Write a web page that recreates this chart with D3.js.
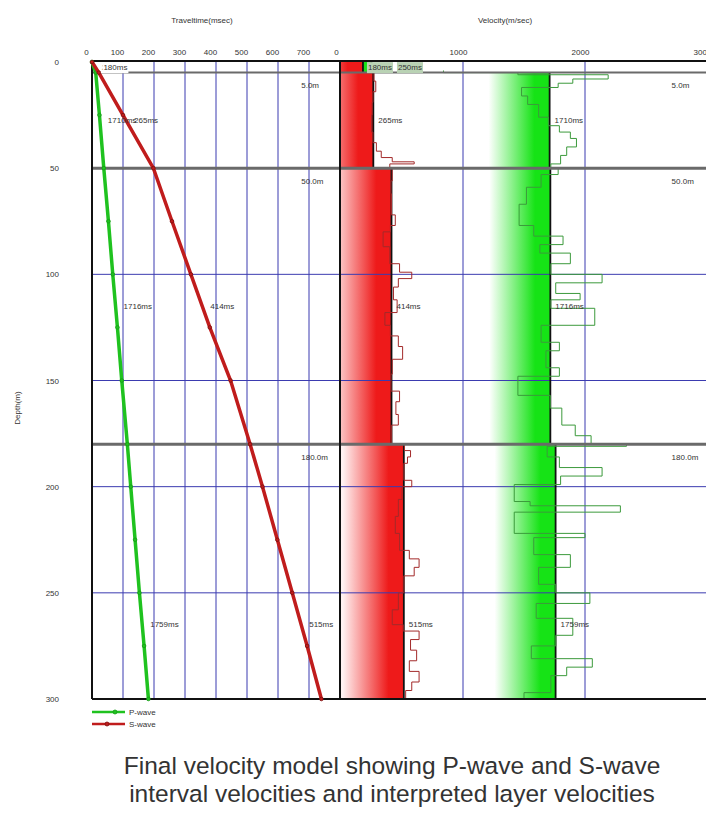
<!DOCTYPE html>
<html>
<head>
<meta charset="utf-8">
<script src="https://cdn.jsdelivr.net/npm/d3@7"></script>
<style>
  body { margin: 0; background: #fff; }
  svg text { font-family: "Liberation Sans Narrow", "Liberation Sans", Arial, sans-serif; fill: #333; }
</style>
</head>
<body>
<svg id="chart" width="706" height="821"></svg>
<script>
// axis ticks
const depthTicks = [0, 50, 100, 150, 200, 250, 300];
const timeTicks = [0, 100, 200, 300, 400, 500, 600, 700];
const velTicks = [0, 1000, 2000, 3000];

// interpreted layers
const layerTop = [0, 5, 50, 180];
const layerBot = [5, 50, 180, 300];
const layerVp = [250, 1710, 1716, 1759];
const layerVs = [180, 265, 414, 515];
const labelDepth = [2.5, 27.5, 115, 265];

// first-break traveltimes
const ttDepth = [0, 5, 25, 50, 75, 100, 125, 150, 180, 200, 225, 250, 275, 300];
const ttP = [0, 12, 24, 38, 53, 67, 82, 96, 114, 125, 139, 153, 168, 182];
const ttS = [0, 22, 100, 198, 258, 319, 380, 447, 510, 550, 598, 646, 694, 740];

// interval velocities (step tops, m)
const sTop = [5, 9, 14, 19, 25, 33, 38, 42, 45, 47, 48,
  50, 56, 62, 72, 77, 80, 87, 95, 99, 102, 106, 112, 118, 124, 129, 134, 140, 147, 155, 160, 166, 171,
  180, 183, 186, 189, 197, 200, 206, 214, 222, 230, 234, 238, 242, 250, 258, 265, 268, 272, 277, 282, 287, 292, 296];
const sVel = [270, 285, 262, 255, 250, 262, 290, 330, 420, 600, 400,
  420, 410, 414, 445, 405, 345, 400, 480, 580, 470, 430, 460, 360, 405, 470, 505, 420, 410, 480, 450, 470, 415,
  520, 570, 545, 515, 580, 500, 470, 445, 480, 560, 640, 600, 515, 470, 420, 510, 640, 570, 620, 560, 640, 580, 530];
const pTop = [4, 5, 6, 8, 10, 12, 16, 20, 26, 30, 33, 36, 40, 44, 48,
  50, 53, 59, 67, 77, 82, 86, 90, 95, 100, 104, 109, 112, 116, 124, 132, 136, 144, 148, 157, 163, 171, 176,
  180, 181, 186, 191, 195, 199, 207, 209, 212, 222, 224, 232, 238, 246, 250, 255, 262, 270, 275, 281, 285, 289, 297];
const pVel = [840, 1450, 2190, 1900, 1780, 1480, 1530, 1620, 1700, 1790, 1880, 1930, 1850, 1800, 1720,
  1780, 1640, 1520, 1460, 1580, 1820, 1630, 1880, 1720, 2140, 1760, 1960, 1720, 2080, 1640, 1790, 1680, 1790, 1450, 1716, 1810, 1920, 2050,
  2340, 1690, 1790, 2140, 1800, 1420, 1550, 2290, 1420, 2000, 1580, 1880, 1620, 1760, 2040, 1600, 1900, 1760, 1560, 2060, 1850, 1720, 1500];

const svg = d3.select('#chart');
const y = d3.scaleLinear().domain([0, 300]).range([62, 699]);
const xT = d3.scaleLinear().domain([0, 800]).range([92, 340]);
const xV = d3.scaleLinear().domain([0, 3000]).range([341, 707]);
const gradSpan = 500;
const blue = '#3b3bb0';

// gradients for layer bars
const defs = svg.append('defs');
function makeGrad(id, v, from, color) {
  const g = defs.append('linearGradient').attr('id', id)
    .attr('gradientUnits', 'userSpaceOnUse')
    .attr('x1', xV(v - gradSpan)).attr('x2', xV(v)).attr('y1', 0).attr('y2', 0);
  g.append('stop').attr('offset', 0).attr('stop-color', from);
  g.append('stop').attr('offset', 0.75).attr('stop-color', color);
  g.append('stop').attr('offset', 1).attr('stop-color', color);
}
layerTop.forEach((t, i) => {
  makeGrad('gp' + i, layerVp[i], '#fff', '#16e316');
  makeGrad('gs' + i, layerVs[i], '#fff2f2', '#ee1a1a');
});

// velocity bars
layerTop.forEach((t, i) => {
  svg.append('rect').attr('x', xV(0)).attr('y', y(t))
    .attr('width', xV(layerVp[i]) - xV(0)).attr('height', y(layerBot[i]) - y(t))
    .attr('fill', `url(#gp${i})`);
  svg.append('rect').attr('x', xV(0)).attr('y', y(t))
    .attr('width', xV(layerVs[i]) - xV(0)).attr('height', y(layerBot[i]) - y(t))
    .attr('fill', `url(#gs${i})`);
});

// grid
const grid = svg.append('g').attr('stroke', blue).attr('stroke-width', 1);
timeTicks.slice(1).forEach(t => {
  grid.append('line').attr('x1', xT(t)).attr('x2', xT(t)).attr('y1', y(0)).attr('y2', y(300));
});
[1000, 2000].forEach(v => {
  grid.append('line').attr('x1', xV(v)).attr('x2', xV(v)).attr('y1', y(0)).attr('y2', y(300));
});
[100, 150, 200, 250].forEach(d => {
  grid.append('line').attr('x1', xT(0)).attr('x2', 706).attr('y1', y(d)).attr('y2', y(d));
});

// bar edges
layerTop.forEach((t, i) => {
  [layerVp[i], layerVs[i]].forEach(v => {
    svg.append('line').attr('x1', xV(v)).attr('x2', xV(v))
      .attr('y1', y(t)).attr('y2', y(layerBot[i]))
      .attr('stroke', '#111').attr('stroke-width', 1.8);
  });
});

// interval velocity step lines
function stepPoints(tops, vels) {
  const pts = [];
  tops.forEach((t, i) => {
    const b = i < tops.length - 1 ? tops[i + 1] : 300;
    pts.push([vels[i], t], [vels[i], b]);
  });
  return pts;
}
const stepLine = d3.line().x(d => xV(d[0])).y(d => y(d[1]));
svg.append('path').attr('d', stepLine(stepPoints(pTop, pVel)))
  .attr('fill', 'none').attr('stroke', '#3c9a3c').attr('stroke-width', 1);
svg.append('path').attr('d', stepLine(stepPoints(sTop, sVel)))
  .attr('fill', 'none').attr('stroke', '#a32a2a').attr('stroke-width', 1);

// layer boundaries
layerTop.slice(1).forEach(d => {
  svg.append('line').attr('x1', xT(0)).attr('x2', 706).attr('y1', y(d)).attr('y2', y(d))
    .attr('stroke', '#6a6a6a').attr('stroke-width', d === 5 ? 2 : 3);
});

// frame
const frame = svg.append('g').attr('stroke', '#111').attr('stroke-width', 2);
frame.append('line').attr('x1', xT(0)).attr('x2', 706).attr('y1', y(0) - 1).attr('y2', y(0) - 1);
frame.append('line').attr('x1', xT(0)).attr('x2', 706).attr('y1', y(300)).attr('y2', y(300));
frame.append('line').attr('x1', xT(0)).attr('x2', xT(0)).attr('y1', y(0) - 1).attr('y2', y(300));
frame.append('line').attr('x1', xT(800)).attr('x2', xT(800)).attr('y1', y(0) - 1).attr('y2', y(300));

// traveltime curves
const ttLine = d3.line().x(d => xT(d[1])).y(d => y(d[0]));
const series = [
  { name: 'P-wave', t: ttP, color: '#1fc21f', dark: '#169a16' },
  { name: 'S-wave', t: ttS, color: '#c01c1c', dark: '#7a1010' }
];
series.forEach(s => {
  const pts = ttDepth.map((d, i) => [d, s.t[i]]);
  svg.append('path').attr('d', ttLine(pts)).attr('fill', 'none')
    .attr('stroke', s.color).attr('stroke-width', 3.5);
  svg.append('g').selectAll('circle').data(pts).enter().append('circle')
    .attr('cx', d => xT(d[1])).attr('cy', d => y(d[0])).attr('r', 1.8)
    .attr('fill', s.color).attr('stroke', s.dark).attr('stroke-width', 0.8);
});

// layer labels
const fs = 8;
const tP = d3.scaleLinear().domain(ttDepth).range(ttP);
const tS = d3.scaleLinear().domain(ttDepth).range(ttS);
function label(x, yy, txt, bg) {
  const g = svg.append('g');
  const t = g.append('text').attr('x', x).attr('y', yy).attr('dy', '0.35em')
    .attr('font-size', fs).text(txt);
  if (bg) {
    const bb = t.node().getBBox();
    g.insert('rect', 'text').attr('x', bb.x - 1).attr('y', bb.y - 1)
      .attr('width', bb.width + 2).attr('height', bb.height + 2).attr('fill', bg);
  }
  return t;
}
layerTop.forEach((t, i) => {
  const d = labelDepth[i];
  label(xT(tP(d)) + 8, y(d), layerVp[i] + 'ms', i === 0 ? '#fff' : null);
  label(xT(tS(d)) + 8, y(d), layerVs[i] + 'ms', i === 0 ? '#fff' : null);
  const sx = xV(layerVs[i]) + 5;
  label(sx, y(d), layerVs[i] + 'ms', i === 0 ? '#b9d2b4' : null);
  label(Math.max(xV(layerVp[i]) + 5, sx + 30), y(d), layerVp[i] + 'ms', i === 0 ? '#b9d2b4' : null);
});
layerTop.slice(1).forEach(d => {
  label(xT(675), y(d) + 13, d.toFixed(1) + 'm');
  label(xV(2710), y(d) + 13, d.toFixed(1) + 'm');
});

// axes
const fmt = d3.format('d');
const topTime = svg.append('g').attr('transform', 'translate(-6,55)')
  .call(d3.axisTop(xT).tickValues(timeTicks).tickFormat(fmt).tickSize(0).tickPadding(0));
const topVel = svg.append('g').attr('transform', 'translate(-5,55)')
  .call(d3.axisTop(xV).tickValues(velTicks).tickFormat(fmt).tickSize(0).tickPadding(0));
const left = svg.append('g').attr('transform', 'translate(59,0)')
  .call(d3.axisLeft(y).tickValues(depthTicks).tickFormat(fmt).tickSize(0).tickPadding(0));
[topTime, topVel, left].forEach(a => {
  a.select('.domain').remove();
  a.selectAll('text').attr('font-size', fs).attr('fill', '#333')
    .style('font-family', '"Liberation Sans Narrow", "Liberation Sans", Arial, sans-serif');
});

// titles
svg.append('text').attr('x', 202).attr('y', 23).attr('text-anchor', 'middle')
  .attr('font-size', fs).text('Traveltime(msec)');
svg.append('text').attr('x', 505).attr('y', 23).attr('text-anchor', 'middle')
  .attr('font-size', fs).text('Velocity(m/sec)');
svg.append('text').attr('transform', 'translate(20,408) rotate(-90)').attr('text-anchor', 'middle')
  .attr('font-size', fs).text('Depth(m)');

// legend
series.forEach((s, i) => {
  const ly = 712 + i * 12;
  svg.append('line').attr('x1', 92).attr('x2', 125).attr('y1', ly).attr('y2', ly)
    .attr('stroke', s.color).attr('stroke-width', 2.5);
  svg.append('circle').attr('cx', i === 0 ? 115 : 107).attr('cy', ly).attr('r', 2)
    .attr('fill', s.color).attr('stroke', s.dark).attr('stroke-width', 0.8);
  svg.append('text').attr('x', 129).attr('y', ly).attr('dy', '0.35em')
    .attr('font-size', fs).text(s.name);
});

// caption
const cap = ['Final velocity model showing P-wave and S-wave',
  'interval velocities and interpreted layer velocities'];
cap.forEach((c, i) => {
  svg.append('text').attr('x', 392).attr('y', 774 + i * 28).attr('text-anchor', 'middle')
    .attr('font-size', 24.5).style('font-family', '"Liberation Sans", Arial, sans-serif')
    .attr('fill', '#2a2a2a').text(c);
});
</script>
</body>
</html>
